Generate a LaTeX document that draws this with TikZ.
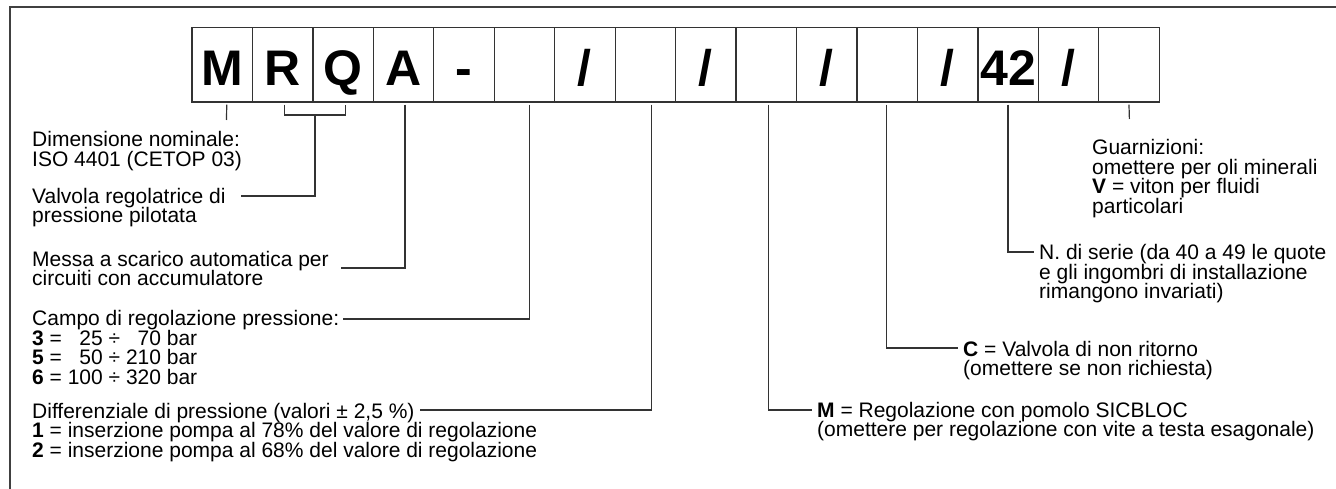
\documentclass[tikz,border=0pt]{standalone}
\usepackage{fontspec}
\setmainfont{Liberation Sans}
\newcommand\notefont{\fontsize{21pt}{19.6pt}\selectfont\lineskiplimit=-10pt}
\newcommand\codefont{\fontsize{50pt}{50pt}\selectfont\bfseries}
\newcommand\fs{\rule{0pt}{16pt}}

\begin{document}
\begin{tikzpicture}[x=1pt,y=-1pt,
  codebox/.style={draw=black!80,line width=1.3pt,minimum width=60.45pt,minimum height=74.5pt,
    inner sep=0pt,text height=42.5pt,text depth=0pt,font=\codefont},
  note/.style={anchor=north west,inner sep=0pt,align=left,font=\notefont},
  lead/.style={draw=black!80,line width=1.2pt}]
\useasboundingbox (0,0) rectangle (1336,489);
% frame
\draw[black!75,line width=2pt] (9.5,489) -- (9.5,7.5) -- (1336,7.5);

% code boxes
\foreach \c [count=\i] in {M,R,Q,A,-,{},/,{},/,{},/,{},/,42,/,{}}
  \node[codebox] (b\i) at ({192+(\i-0.5)*60.45},64.75) {\c};

% texts
\node[note] (tDim) at (32,130.7) {\fs Dimensione nominale:\\ISO 4401 (CETOP 03)};
\node[note] (tValv) at (32,187) {\fs Valvola regolatrice di\\pressione pilotata};
\node[note] (tMessa) at (32,250) {\fs Messa a scarico automatica per\\circuiti con accumulatore};
\node[note] (tCampo) at (32,309.3) {\fs Campo di regolazione pressione:\\
  \textbf{3} = \hphantom{1}25 ÷ \hphantom{2}70 bar\\
  \textbf{5} = \hphantom{1}50 ÷ 210 bar\\
  \textbf{6} = 100 ÷ 320 bar};
\node[note] (tDiff) at (32,402) {\fs Differenziale di pressione (valori ± 2,5 \%)\\
  \textbf{1} = inserzione pompa al 78\% del valore di regolazione\\
  \textbf{2} = inserzione pompa al 68\% del valore di regolazione};
\node[note] (tGuarn) at (1092,138.3) {\fs Guarnizioni:\\omettere per oli minerali\\\textbf{V} = viton per fluidi\\particolari};
\node[note] (tSerie) at (1039,243.4) {\fs N. di serie (da 40 a 49 le quote\\e gli ingombri di installazione\\rimangono invariati)};
\node[note] (tRit) at (963,339.8) {\fs\textbf{C} = Valvola di non ritorno\\(omettere se non richiesta)};
\node[note] (tPom) at (817,401) {\fs\textbf{M} = Regolazione con pomolo SICBLOC\\(omettere per regolazione con vite a testa esagonale)};

% leaders
\coordinate (kM) at (226.5,120);
\coordinate (kRQ) at (315,115);
\coordinate (eValv) at (241,196);
\coordinate (eMessa) at (341,268);
\coordinate (eCampo) at (343,319);
\coordinate (eDiff) at (420,410);
\coordinate (ePom) at (812,410);
\coordinate (eRit) at (958,348);
\coordinate (eSer) at (1034,252);
\coordinate (kGu) at (1129.4,119);

\draw[lead] ([xshift=4.5pt,yshift=-2pt]b1.south) -- (kM);
\draw[lead] ([xshift=2pt,yshift=-2pt]b2.south) |- (kRQ) -| ([xshift=2pt,yshift=-2pt]b3.south);
\draw[lead] (kRQ) |- (eValv);
\draw[lead] ([xshift=1.5pt,yshift=-2pt]b4.south) |- (eMessa);
\draw[lead] ([xshift=5pt,yshift=-2pt]b6.south) |- (eCampo);
\draw[lead] ([xshift=6pt,yshift=-2pt]b8.south) |- (eDiff);
\draw[lead] ([xshift=2pt,yshift=-2pt]b10.south) |- (ePom);
\draw[lead] ([xshift=-1pt,yshift=-2pt]b12.south) |- (eRit);
\draw[lead] ([yshift=-2pt]b14.south) |- (eSer);
\draw[lead] ([yshift=-2pt]b16.south) -- (kGu);
\end{tikzpicture}
\end{document}
